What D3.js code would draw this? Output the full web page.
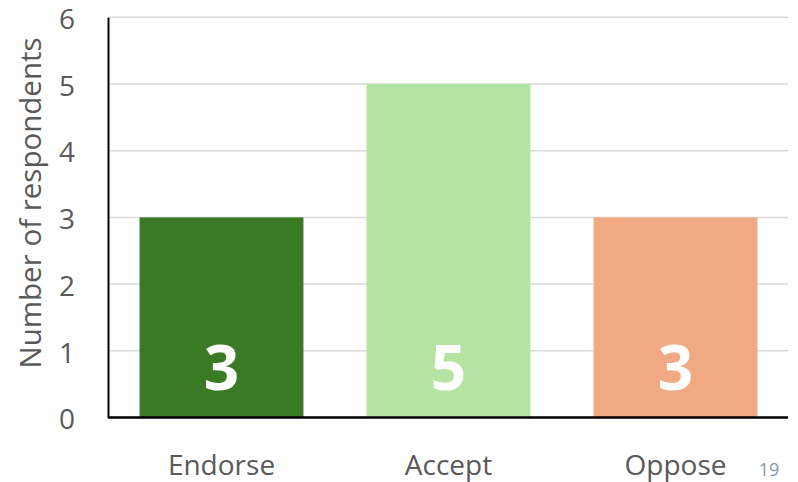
<!DOCTYPE html>
<html>
<head>
<meta charset="utf-8">
<script src="https://cdn.jsdelivr.net/npm/d3@7"></script>
<style>
  html, body { margin: 0; padding: 0; background: #fff; }
  svg { display: block; font-family: "Open Sans", "Noto Sans", sans-serif; }
</style>
</head>
<body>
<svg id="chart" width="798" height="482"></svg>
<script>
// Survey responses by stance
const categories = ["Endorse", "Accept", "Oppose"];
const respondents = [3, 5, 3];
const barColors = ["#3b7a24", "#b5e4a2", "#f0a983"];
const yTicks = [0, 1, 2, 3, 4, 5, 6];
const yTitle = "Number of respondents";
const pageNumber = "19";

const svg = d3.select("#chart");
const margin = { left: 108, right: 10, top: 17, bottom: 65 };

const x = d3.scaleBand()
  .domain(categories)
  .range([margin.left, 789])
  .paddingInner(0.278)
  .paddingOuter(0.139);

const y = d3.scaleLinear()
  .domain([0, 6])
  .range([417.5, 17.3]);

// horizontal gridlines
svg.append("g")
  .selectAll("line")
  .data(yTicks.filter(d => d > 0))
  .join("line")
  .attr("x1", margin.left)
  .attr("x2", 788)
  .attr("y1", d => y(d))
  .attr("y2", d => y(d))
  .attr("stroke", "#d9d9d9")
  .attr("stroke-width", 1.5);

// bars
svg.append("g")
  .selectAll("rect")
  .data(categories)
  .join("rect")
  .attr("x", d => x(d))
  .attr("width", x.bandwidth())
  .attr("y", (d, i) => y(respondents[i]))
  .attr("height", (d, i) => y(0) - y(respondents[i]))
  .attr("fill", (d, i) => barColors[i]);

// value labels inside bars
svg.append("g")
  .selectAll("text")
  .data(categories)
  .join("text")
  .attr("x", d => x(d) + x.bandwidth() / 2)
  .attr("y", 390)
  .attr("text-anchor", "middle")
  .attr("fill", "#ffffff")
  .attr("font-weight", "bold")
  .attr("font-size", 62)
  .text((d, i) => respondents[i]);

// y axis
const yAxis = d3.axisLeft(y).tickValues(yTicks).tickFormat(d3.format("d"))
  .tickSize(0).tickPadding(33);
const gy = svg.append("g")
  .attr("transform", `translate(${margin.left},0)`)
  .call(yAxis);
gy.select(".domain").attr("stroke", "#000").attr("stroke-width", 2);
gy.selectAll("text")
  .attr("fill", "#595959")
  .attr("font-size", 28)
  .attr("dy", "0.4em")
  .attr("font-family", "'Open Sans', 'Noto Sans', sans-serif");

// x axis
const xAxis = d3.axisBottom(x).tickSize(0).tickPadding(38);
const gx = svg.append("g")
  .attr("transform", `translate(0,${y(0)})`)
  .call(xAxis);
gx.select(".domain").attr("stroke", "#000").attr("stroke-width", 2.5)
  .attr("d", `M${margin.left},0H788`);
gx.selectAll("text")
  .attr("fill", "#595959")
  .attr("font-size", 28)
  .attr("font-family", "'Open Sans', 'Noto Sans', sans-serif");

// axis title
svg.append("text")
  .attr("transform", `translate(41,203) rotate(-90)`)
  .attr("text-anchor", "middle")
  .attr("fill", "#595959")
  .attr("font-size", 29.5)
  .text(yTitle);

// page number
svg.append("text")
  .attr("x", 769)
  .attr("y", 476)
  .attr("text-anchor", "middle")
  .attr("fill", "#8497b0")
  .attr("font-size", 18)
  .text(pageNumber);
</script>
</body>
</html>
